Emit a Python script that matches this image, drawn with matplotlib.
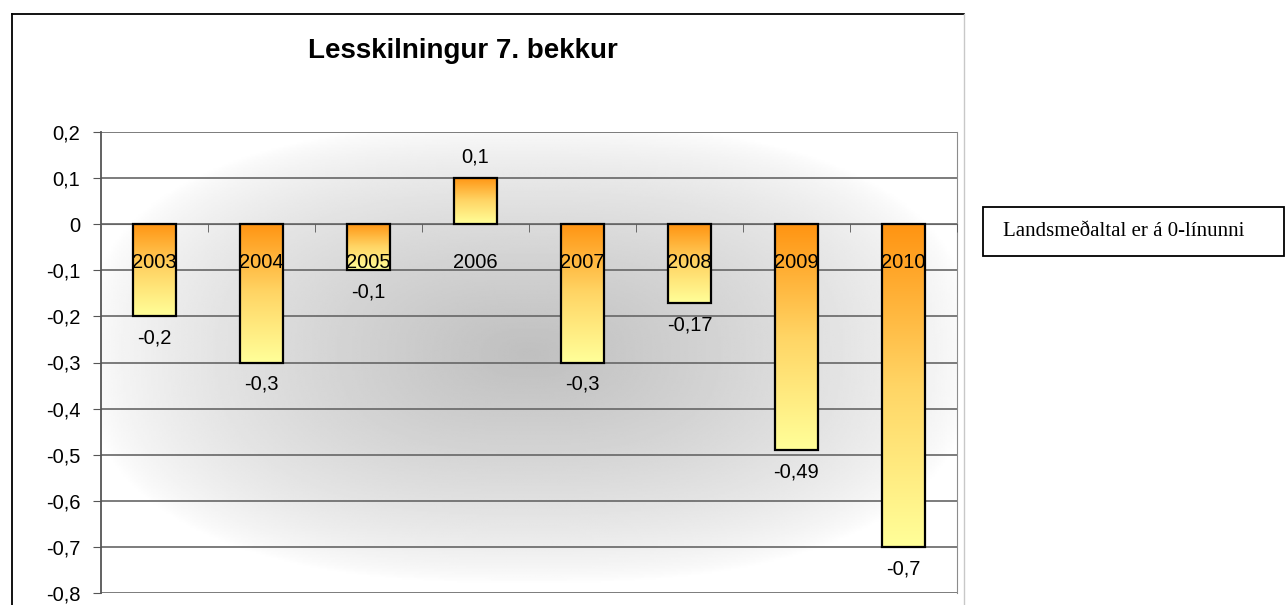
import numpy as np
import matplotlib
matplotlib.use("Agg")
import matplotlib.pyplot as plt
from matplotlib.patches import Rectangle
from matplotlib.lines import Line2D
from matplotlib.colors import LinearSegmentedColormap
from matplotlib.ticker import FuncFormatter, FixedLocator

plt.rcParams['font.family'] = ['Liberation Sans', 'DejaVu Sans']

# data
years = ["2003", "2004", "2005", "2006", "2007", "2008", "2009", "2010"]
values = [-0.2, -0.3, -0.1, 0.1, -0.3, -0.17, -0.49, -0.7]
yticks = [0.2, 0.1, 0, -0.1, -0.2, -0.3, -0.4, -0.5, -0.6, -0.7, -0.8]
title = "Lesskilningur 7. bekkur"
note = "Landsmeðaltal er á 0-línunni"

W, H = 1285, 605
fig = plt.figure(figsize=(W / 100, H / 100), dpi=100)
fig.patch.set_facecolor("white")


def fx(px):
    return px / W


def fy(py):
    return 1 - py / H


# outer chart frame
fig.add_artist(Line2D([fx(12), fx(964)], [fy(14), fy(14)], color="black", lw=1.3))
fig.add_artist(Line2D([fx(12), fx(12)], [fy(14), fy(606)], color="black", lw=1.3))
fig.add_artist(Line2D([fx(964), fx(964)], [fy(14), fy(606)], color="#c8c8c8", lw=1.0))

ax = fig.add_axes([fx(101), fy(593), fx(957) - fx(101), fy(132) - fy(593)])
ax.set_xlim(-0.5, len(years) - 0.5)
ax.set_ylim(-0.8, 0.2)

# grey "from centre" background shading
gx, gy = np.meshgrid(np.linspace(0, 1, 400), np.linspace(0, 1, 300))
p = 2.5
r = ((np.abs(gx - 0.50) / 0.52) ** p + (np.abs(gy - 0.52) / 0.50) ** p) ** (1 / p)
shade = np.clip(1 - r, 0, 1) ** 0.7
bg = 1 - 0.25 * shade
ax.imshow(bg, extent=[0, 1, 0, 1], transform=ax.transAxes, origin="lower",
          cmap="gray", vmin=0, vmax=1, aspect="auto", zorder=0, interpolation="bilinear")

for t in yticks:
    ax.axhline(t, color="#666666", lw=1.2, zorder=1)

# bars with vertical orange -> yellow gradient
bar_cmap = LinearSegmentedColormap.from_list("oy", ["#ffff99", "#ffd565", "#ff9412"])
grad = np.linspace(0, 1, 256).reshape(-1, 1)
bars = ax.bar(range(len(years)), values, width=0.4, facecolor="none",
              edgecolor="black", linewidth=1.6, zorder=3)
for b, v in zip(bars, values):
    x0 = b.get_x()
    y0, y1 = min(0, v), max(0, v)
    im = ax.imshow(grad, extent=[x0, x0 + b.get_width(), y0, y1], origin="lower",
                   cmap=bar_cmap, aspect="auto", zorder=2)
    im.set_clip_path(b)
    off = -22 if v < 0 else 21
    ax.annotate(f"{v:g}".replace(".", ","), (b.get_x() + b.get_width() / 2, v),
                xytext=(0, off), textcoords="offset pixels", ha="center", va="center",
                fontsize=14.5, zorder=4)

# category axis sits on the zero line
ax.set_axisbelow(False)
ax.spines["bottom"].set_position(("data", 0))
ax.spines["bottom"].set_color("#666666")
ax.spines["top"].set_visible(False)
ax.spines["right"].set_color("#8c8c8c")
ax.spines["left"].set_color("#555555")
ax.spines["left"].set_linewidth(1.3)
ax.set_xticks(range(len(years)))
ax.set_xticklabels(years, fontsize=14.5)
ax.xaxis.set_minor_locator(FixedLocator(np.arange(0.5, len(years), 1)))
ax.tick_params(axis="x", which="major", length=0, pad=21)
ax.tick_params(axis="x", which="minor", length=6, color="#555555", direction="out")
ax.set_yticks(yticks)
ax.yaxis.set_major_formatter(FuncFormatter(lambda v, p: f"{v:.1f}".replace(".", ",") if abs(v) > 1e-9 else "0"))
ax.tick_params(axis="y", length=6, color="#555555", labelsize=14.5, pad=9)

fig.text(fx(463), fy(51), title, ha="center", va="center", fontsize=20, fontweight="bold")

# note box
fig.add_artist(Rectangle((fx(983), fy(256)), fx(1284) - fx(983), fy(207) - fy(256),
                         facecolor="white", edgecolor="black", lw=1.3, transform=fig.transFigure))
fig.text(fx(1003), fy(232), note, ha="left", va="center", fontsize=15,
         family=["Liberation Serif", "DejaVu Serif"])

fig.savefig("out.png", dpi=100)
